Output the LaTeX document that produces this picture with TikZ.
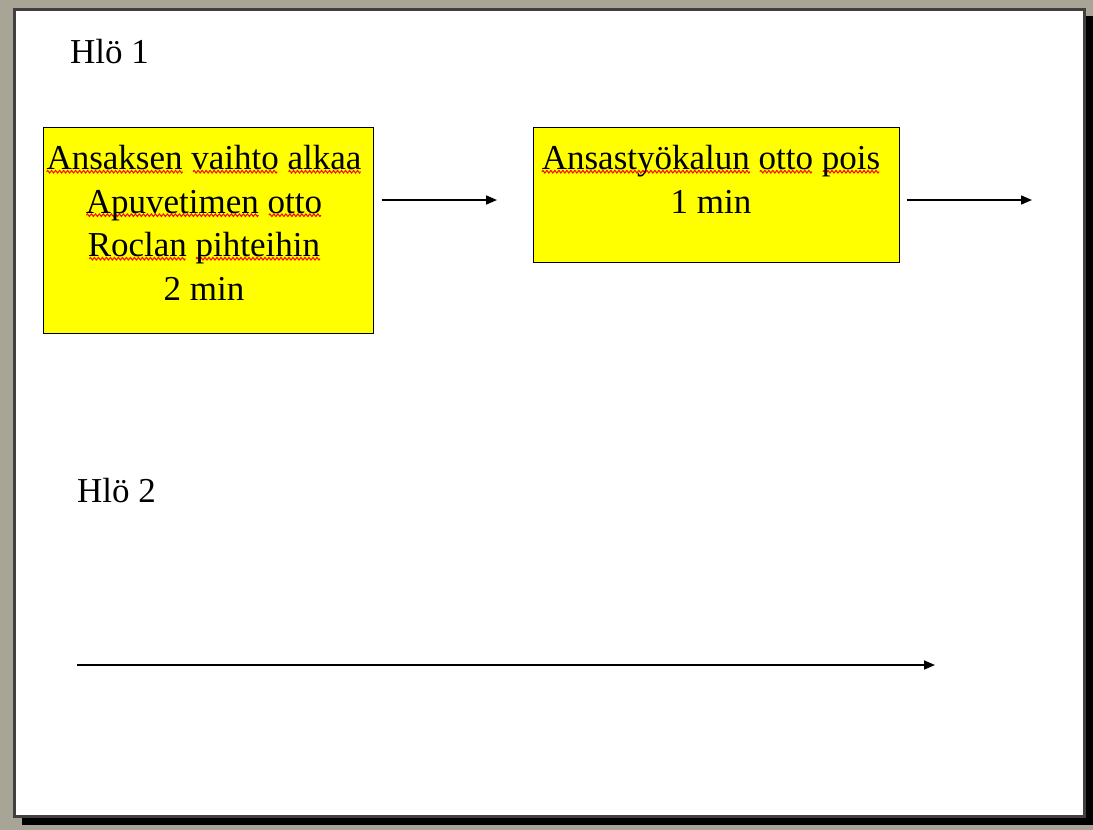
\documentclass[tikz,border=0pt]{standalone}
\usepackage{fontspec}
\setmainfont{Liberation Serif}
\usetikzlibrary{arrows.meta}

\definecolor{deskgrey}{RGB}{168,164,150}
\definecolor{framegrey}{RGB}{64,64,64}
\definecolor{noteyellow}{RGB}{255,255,0}

% one period of the red spelling wave, repeated under a word
\newsavebox\wavebox
\newsavebox\wordbox
\AtBeginDocument{%
  \sbox\wavebox{\begin{pgfpicture}%
    \pgfpathrectangle{\pgfpoint{0pt}{-1.4pt}}{\pgfpoint{4pt}{2.8pt}}%
    \pgfusepath{use as bounding box}%
    \pgfsetlinewidth{1pt}%
    \pgfsetmiterjoin
    \pgfsetstrokecolor{red}%
    \pgfpathmoveto{\pgfpoint{0pt}{0pt}}%
    \pgfpathlineto{\pgfpoint{1pt}{1.3pt}}%
    \pgfpathlineto{\pgfpoint{3pt}{-1.3pt}}%
    \pgfpathlineto{\pgfpoint{4pt}{0pt}}%
    \pgfusepath{stroke}%
  \end{pgfpicture}}}
\newcommand\spellmark[1]{%
  \sbox\wordbox{#1}%
  \rlap{\lower3.6pt\hbox to\wd\wordbox{\cleaders\copy\wavebox\hfil}}%
  \usebox\wordbox}

\begin{document}
\begin{tikzpicture}[x=1pt, y=-1pt,
  txt/.style={font=\fontsize{35}{43}\selectfont, inner sep=0pt, anchor=base},
  taskbox/.style={draw=black, line width=1.2pt, fill=noteyellow, anchor=north west, inner sep=0pt},
  flow/.style={draw=black, line width=1.6pt, -{Triangle[length=11pt,width=9pt]}}]

\useasboundingbox (0,0) rectangle (1093,830);

% slide sheet with its drop shadow
\fill[deskgrey] (0,0) rectangle (1093,830);
\fill[black] (22,16) rectangle (1093,825);
\filldraw[fill=white, draw=framegrey, line width=2.6pt] (14.6,9.6) rectangle (1084.4,816.5);

% person labels
\node[txt, anchor=base west] (p1) at (70,63) {Hlö 1};
\node[txt, anchor=base west] (p2) at (77,502) {Hlö 2};

% task boxes
\node[taskbox, minimum width=330pt, minimum height=206pt] (box1) at (43,127) {};
\node[taskbox, minimum width=366pt, minimum height=135pt] (box2) at (533,127) {};

\node[txt] (b1l1) at (204,169.5) {\spellmark{Ansaksen} \spellmark{vaihto} \spellmark{alkaa}};
\node[txt] (b1l2) at (204,213) {\spellmark{Apuvetimen} \spellmark{otto}};
\node[txt] (b1l3) at (204,256.5) {\spellmark{Roclan} \spellmark{pihteihin}};
\node[txt] (b1l4) at (204,300) {2 min};

\node[txt] (b2l1) at (711,169.5) {\spellmark{Ansastyökalun} \spellmark{otto} \spellmark{pois}};
\node[txt] (b2l2) at (711,213) {1 min};

% flow arrows
\coordinate (a1s) at (381.5,200);
\coordinate (a1e) at (497,200);
\coordinate (a2s) at (906.5,200);
\coordinate (a2e) at (1032,200);
\coordinate (a3s) at (77,665);
\coordinate (a3e) at (935,665);

\draw[flow] (a1s) -- (a1e);
\draw[flow] (a2s) -- (a2e);
\draw[flow] (a3s) -- (a3e);
\end{tikzpicture}
\end{document}
